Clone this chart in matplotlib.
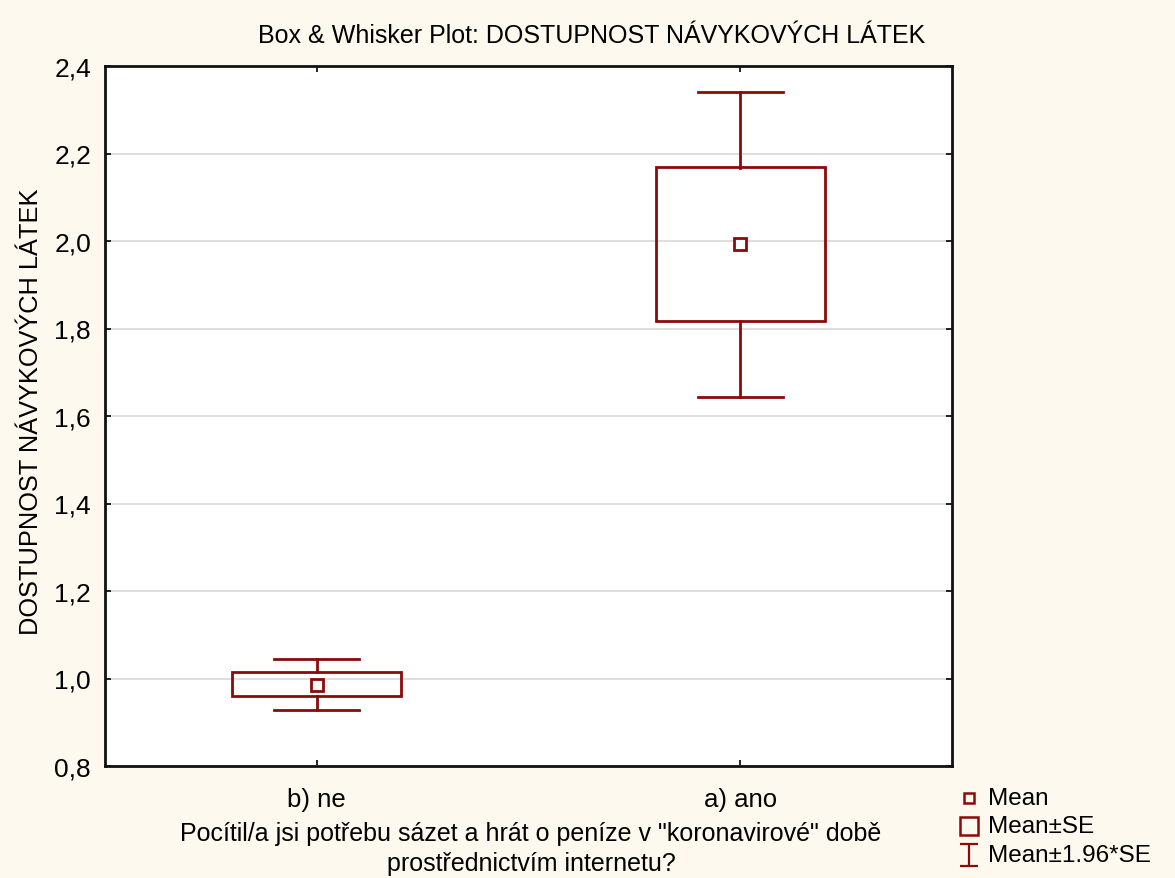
import matplotlib
matplotlib.use("Agg")
import matplotlib.pyplot as plt
from matplotlib.lines import Line2D
from matplotlib.patches import Rectangle
from matplotlib.path import Path

categories = ["b) ne", "a) ano"]
means = [0.985, 1.993]
se_low = [0.960, 1.817]
se_high = [1.015, 2.168]
ci_low = [0.929, 1.644]
ci_high = [1.044, 2.341]
yticks = [0.8, 1.0, 1.2, 1.4, 1.6, 1.8, 2.0, 2.2, 2.4]
legend_labels = ["Mean", "Mean±SE", "Mean±1.96*SE"]

plt.rcParams['font.family'] = ['Liberation Sans', 'DejaVu Sans']
bg = '#fdf9ef'
red = '#8b0a0a'
W, H = 1175, 879

fig = plt.figure(figsize=(11.75, 8.79), dpi=100, facecolor=bg)
ax = fig.add_axes([105/W, 1 - 767/H, (952-105)/W, (767-67)/H])
ax.set_facecolor('white')

xs = [0.5, 1.5]
bw = 0.4
cw = 0.2
for x, m, sl, sh, cl, ch in zip(xs, means, se_low, se_high, ci_low, ci_high):
    ax.add_patch(Rectangle((x - bw/2, sl), bw, sh - sl, fill=False, edgecolor=red, lw=2, zorder=3))
    ax.plot([x, x], [sh, ch], color=red, lw=2, zorder=3)
    ax.plot([x, x], [cl, sl], color=red, lw=2, zorder=3)
    ax.plot([x - cw/2, x + cw/2], [ch, ch], color=red, lw=2, zorder=3)
    ax.plot([x - cw/2, x + cw/2], [cl, cl], color=red, lw=2, zorder=3)
    ax.plot([x], [m], marker='s', ms=9, mfc='white', mec=red, mew=2, ls='none', zorder=4)

ax.set_xlim(0, 2)
ax.set_ylim(0.8, 2.4)
ax.set_xticks(xs)
ax.set_xticklabels(categories, fontsize=18.5)
ax.set_yticks(yticks)
ax.set_yticklabels([f"{t:.1f}".replace('.', ',') for t in yticks], fontsize=19)
ax.yaxis.grid(True, color='#d8d8d8', lw=1.2, zorder=0)
ax.set_axisbelow(True)
ax.tick_params(direction='in', length=4, width=1.2, top=True, right=True, pad=10)
ax.tick_params(axis='x', pad=15)
for s in ax.spines.values():
    s.set_linewidth(2)
    s.set_color('#111111')

fig.text(592/W, 1 - 36/H, "Box & Whisker Plot: DOSTUPNOST NÁVYKOVÝCH LÁTEK",
         fontsize=18, ha='center', va='center')
ax.set_ylabel("DOSTUPNOST NÁVYKOVÝCH LÁTEK", fontsize=18.3)
ax.yaxis.set_label_coords(-62/847, (767-412)/700)
fig.text(531/W, 1 - 849/H,
         "Pocítil/a jsi potřebu sázet a hrát o peníze v \"koronavirové\" době\nprostřednictvím internetu?",
         fontsize=18, ha='center', va='center', multialignment='center', linespacing=1.3)

# legend drawn manually in figure pixel coordinates
ibeam = Path([(-0.8, -1), (0.8, -1), (0, -1), (0, 1), (-0.8, 1), (0.8, 1)],
             [Path.MOVETO, Path.LINETO, Path.MOVETO, Path.LINETO, Path.MOVETO, Path.LINETO])
markers = [dict(marker='s', ms=7, mfc='none', mec=red, mew=1.8),
           dict(marker='s', ms=13, mfc='none', mec=red, mew=1.8),
           dict(marker=ibeam, ms=16, mfc='none', mec=red, mew=1.6)]
rows_y = [799, 827, 856]
for lab, mk, yy in zip(legend_labels, markers, rows_y):
    fig.add_artist(Line2D([969/W], [1 - yy/H], ls='none', transform=fig.transFigure, **mk))
    fig.text(988/W, 1 - yy/H, lab, fontsize=17.5, ha='left', va='center')

fig.savefig("out.png", dpi=100, facecolor=bg)
